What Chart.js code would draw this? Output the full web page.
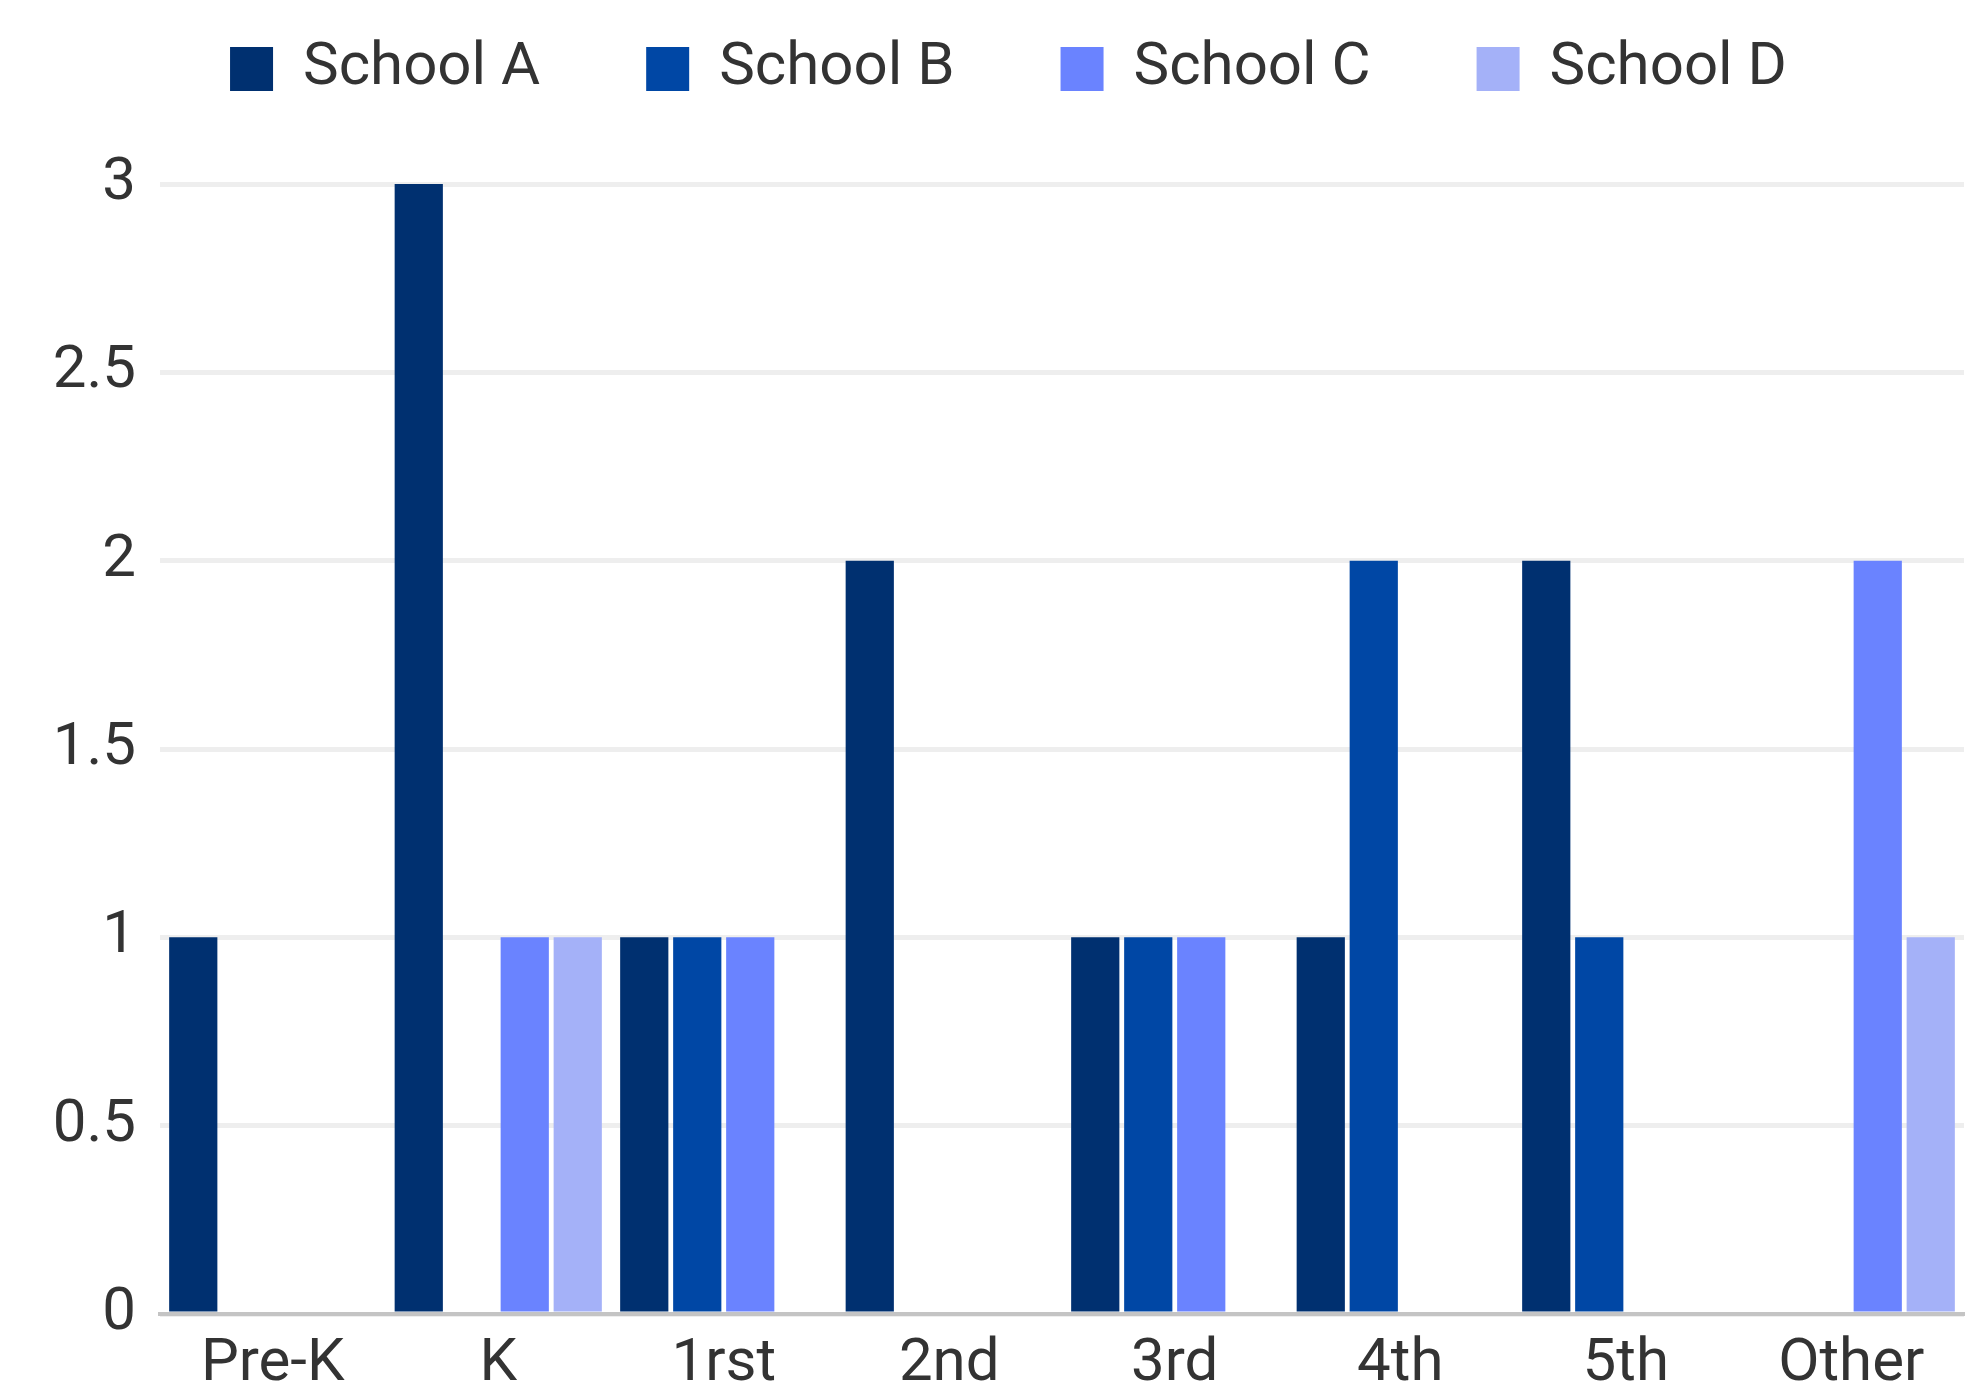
<!DOCTYPE html>
<html>
<head>
<meta charset="utf-8">
<script src="https://cdn.jsdelivr.net/npm/chart.js@4.4.1/dist/chart.umd.min.js"></script>
<style>
  html, body { margin: 0; padding: 0; background: #ffffff; }
  #wrap { width: 1976px; height: 1383px; position: relative; }
</style>
</head>
<body>
<div id="wrap"><canvas id="gradeChart"></canvas></div>
<script>
// --- data ---
const grades = ['Pre-K', 'K', '1rst', '2nd', '3rd', '4th', '5th', 'Other'];
const schoolA = [1, 3, 1, 2, 1, 1, 2, 0];
const schoolB = [0, 0, 1, 0, 1, 2, 1, 0];
const schoolC = [0, 1, 1, 0, 1, 0, 0, 2];
const schoolD = [0, 1, 0, 0, 0, 0, 0, 1];
const schoolNames = ['School A', 'School B', 'School C', 'School D'];
const schoolColors = ['#003070', '#0047a5', '#6a83ff', '#a4b1f8'];

// push the plot area down below the legend
const legendSpacer = {
    id: 'legendSpacer',
    beforeInit(chart) {
        const fit = chart.legend.fit;
        chart.legend.fit = function () {
            fit.bind(chart.legend)();
            this.height += 75;
        };
    }
};

const seriesValues = [schoolA, schoolB, schoolC, schoolD];

new Chart(document.getElementById('gradeChart'), {
    type: 'bar',
    data: {
        labels: grades,
        datasets: seriesValues.map((vals, i) => ({
            label: schoolNames[i],
            data: vals,
            backgroundColor: schoolColors[i],
            borderWidth: 0,
            categoryPercentage: 0.94,
            barPercentage: 0.91
        }))
    },
    options: {
        responsive: true,
        maintainAspectRatio: false,
        animation: false,
        layout: {
            padding: { top: -67, left: 53, right: 12, bottom: -33 }
        },
        plugins: {
            legend: {
                display: true,
                position: 'top',
                labels: {
                    boxWidth: 43,
                    boxHeight: 44,
                    padding: 106,
                    color: '#333333',
                    font: { family: 'Roboto', size: 60 }
                }
            },
            tooltip: { enabled: false }
        },
        scales: {
            x: {
                grid: { display: false, drawTicks: false },
                border: { display: true, color: '#c4c4c4', width: 4 },
                ticks: {
                    padding: 15,
                    color: '#333333',
                    font: { family: 'Roboto', size: 60 }
                }
            },
            y: {
                min: 0,
                max: 3,
                grid: { color: '#eeeeee', lineWidth: 5, drawTicks: false },
                border: { display: false },
                ticks: {
                    stepSize: 0.5,
                    padding: 24,
                    color: '#333333',
                    font: { family: 'Roboto', size: 60 },
                    callback: (value) => String(value)
                },
                afterFit: (scale) => { scale.width = 107; }
            }
        }
    },
    plugins: [legendSpacer]
});
</script>
</body>
</html>
